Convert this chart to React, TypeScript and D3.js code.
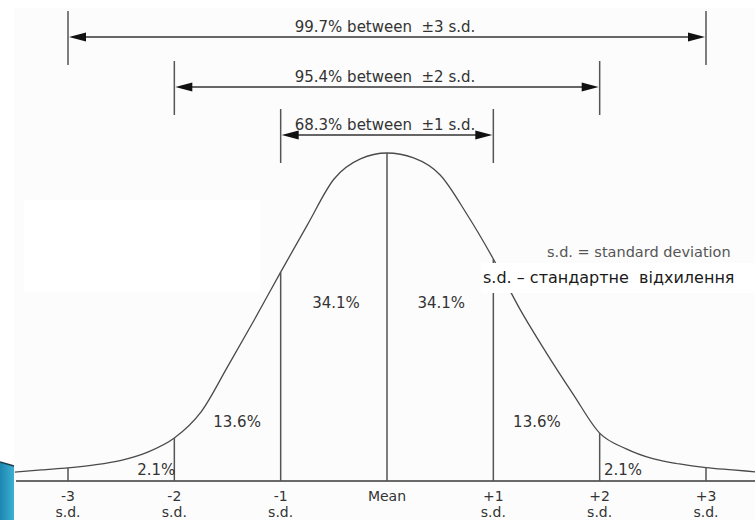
// normal distribution diagram: curve, sd lines, percentage labels and the +/- sd arrows
import React, { useRef, useEffect } from 'react';
import * as d3 from 'd3';

// sd positions along the axis and their labels
const sdPositions = [-3, -2, -1, 0, 1, 2, 3];
const tickLabels = ['-3', '-2', '-1', 'Mean', '+1', '+2', '+3'];
const tickSubLabels = ['s.d.', 's.d.', 's.d.', '', 's.d.', 's.d.', 's.d.'];

// curve: z (in sd) and height relative to the peak
const curveZ = [-3.5, -3.25, -3, -2.75, -2.5, -2.25, -2, -1.75, -1.5, -1.25, -1, -0.75, -0.5, -0.25, 0,
  0.25, 0.5, 0.75, 1, 1.25, 1.5, 1.75, 2, 2.25, 2.5, 2.75, 3, 3.25, 3.5];
const curveHeight = [0.027, 0.034, 0.04, 0.049, 0.063, 0.088, 0.131, 0.21, 0.348, 0.49, 0.637, 0.78, 0.92, 0.982, 1.0,
  0.985, 0.933, 0.814, 0.677, 0.524, 0.39, 0.265, 0.146, 0.098, 0.068, 0.052, 0.041, 0.034, 0.027];

// area percentages, placed in the middle of each band
const bandCenters = [-2.17, -1.41, -0.48, 0.51, 1.41, 2.22];
const bandLabels = ['2.1%', '13.6%', '34.1%', '34.1%', '13.6%', '2.1%'];
const bandLabelLevel = [0.018, 0.165, 0.528, 0.528, 0.165, 0.018];

// the three range arrows
const rangeSpans = [3, 2, 1];
const rangeLabels = ['99.7% between  \u00b13 s.d.', '95.4% between  \u00b12 s.d.', '68.3% between  \u00b11 s.d.'];

const noteEn = 's.d. = standard deviation';
const noteUk = 's.d. \u2013 стандартне  відхилення';

function NormalChart() {
  const ref = useRef<SVGSVGElement>(null);
  const width = 755;
  const height = 520;
  const baseY = 481;
  const font = '"DejaVu Sans", Verdana, sans-serif';

  useEffect(() => {
    const svg = d3.select(ref.current);
    svg.selectAll('*').remove();

    const x = d3.scaleLinear().domain([-3, 3]).range([68, 706]);
    const y = d3.scaleLinear().domain([0, 1]).range([baseY, 153]);
    const hAt = (z: number) => curveHeight[curveZ.indexOf(z)];

    // backgrounds
    svg.append('rect').attr('width', width).attr('height', height).attr('fill', '#ffffff');
    svg.append('rect').attr('x', 14).attr('y', 8).attr('width', width - 14).attr('height', height - 8).attr('fill', '#fcfcfc');
    svg.append('rect').attr('x', 24).attr('y', 200).attr('width', 236).attr('height', 92).attr('fill', '#ffffff');

    // blue slide corner
    const grad = svg.append('defs').append('linearGradient')
      .attr('id', 'blueCorner').attr('x1', 0).attr('y1', 0).attr('x2', 1).attr('y2', 0);
    grad.append('stop').attr('offset', '0%').attr('stop-color', '#1c86b0');
    grad.append('stop').attr('offset', '100%').attr('stop-color', '#3eb0d2');
    svg.append('path')
      .attr('d', 'M0,462 L14,466 L14,520 L0,520 Z')
      .attr('fill', 'url(#blueCorner)');
    svg.append('path').attr('d', 'M0,462 L14,466').attr('stroke', '#1d3f4d').attr('stroke-width', 1.5);

    // baseline
    svg.append('line')
      .attr('x1', 16).attr('x2', width).attr('y1', baseY).attr('y2', baseY)
      .attr('stroke', '#6a6a6a').attr('stroke-width', 2);

    // the curve
    const line = d3.line<number>()
      .x((d, i) => x(curveZ[i]))
      .y(d => y(d))
      .curve(d3.curveMonotoneX);
    svg.append('path')
      .datum(curveHeight)
      .attr('d', line)
      .attr('fill', 'none')
      .attr('stroke', '#4a4a4a')
      .attr('stroke-width', 1.3);

    // sd verticals up to the curve
    svg.selectAll('.sdline')
      .data(sdPositions)
      .enter()
      .append('line')
      .attr('class', 'sdline')
      .attr('x1', d => x(d)).attr('x2', d => x(d))
      .attr('y1', baseY).attr('y2', d => y(hAt(d)))
      .attr('stroke', '#555')
      .attr('stroke-width', 1.5);

    // tick labels
    svg.selectAll('.tick1')
      .data(sdPositions)
      .enter()
      .append('text')
      .attr('x', d => x(d)).attr('y', 501)
      .attr('text-anchor', 'middle')
      .style('font-family', font).style('font-size', '14px').style('fill', '#333')
      .text((d, i) => tickLabels[i]);
    svg.selectAll('.tick2')
      .data(sdPositions)
      .enter()
      .append('text')
      .attr('x', d => x(d)).attr('y', 517)
      .attr('text-anchor', 'middle')
      .style('font-family', font).style('font-size', '14px').style('fill', '#333')
      .text((d, i) => tickSubLabels[i]);

    // band percentages
    svg.selectAll('.band')
      .data(bandCenters)
      .enter()
      .append('text')
      .attr('x', d => x(d)).attr('y', (d, i) => y(bandLabelLevel[i]))
      .attr('text-anchor', 'middle')
      .style('font-family', font).style('font-size', '15px').style('fill', '#333')
      .text((d, i) => bandLabels[i]);

    // range arrows
    const arrowY = [37, 87, 135];
    rangeSpans.forEach((s, i) => {
      const ay = arrowY[i];
      const x0 = x(-s);
      const x1 = x(s);
      const g = svg.append('g');
      g.append('line').attr('x1', x0).attr('x2', x0).attr('y1', ay - 26).attr('y2', ay + 28)
        .attr('stroke', '#555').attr('stroke-width', 1.5);
      g.append('line').attr('x1', x1).attr('x2', x1).attr('y1', ay - 26).attr('y2', ay + 28)
        .attr('stroke', '#555').attr('stroke-width', 1.5);
      g.append('line').attr('x1', x0 + 8).attr('x2', x1 - 8).attr('y1', ay).attr('y2', ay)
        .attr('stroke', '#666').attr('stroke-width', 2);
      g.append('path')
        .attr('d', `M${x0 + 1},${ay} L${x0 + 18},${ay - 4.5} L${x0 + 18},${ay + 4.5} Z`)
        .attr('fill', '#111');
      g.append('path')
        .attr('d', `M${x1 - 1},${ay} L${x1 - 18},${ay - 4.5} L${x1 - 18},${ay + 4.5} Z`)
        .attr('fill', '#111');
      g.append('text')
        .attr('x', 385).attr('y', ay - 5)
        .attr('text-anchor', 'middle')
        .style('white-space', 'pre')
        .style('font-family', font).style('font-size', '15px').style('fill', '#333')
        .text(rangeLabels[i]);
    });

    // notes on the right
    svg.append('text')
      .attr('x', 547).attr('y', 257)
      .style('font-family', font).style('font-size', '14.5px').style('fill', '#555')
      .text(noteEn);
    svg.append('rect').attr('x', 481).attr('y', 263).attr('width', width - 481).attr('height', 30).attr('fill', '#ffffff');
    svg.append('text')
      .attr('x', 483).attr('y', 283)
      .style('white-space', 'pre')
      .style('font-family', font).style('font-size', '16px').style('fill', '#1a1a1a')
      .text(noteUk);
  }, []);

  return <svg ref={ref} width={width} height={height} style={{ display: 'block' }} />;
}

export default function App() {
  return (
    <div style={{ position: 'absolute', left: 0, top: 0 }}>
      <NormalChart />
    </div>
  );
}
